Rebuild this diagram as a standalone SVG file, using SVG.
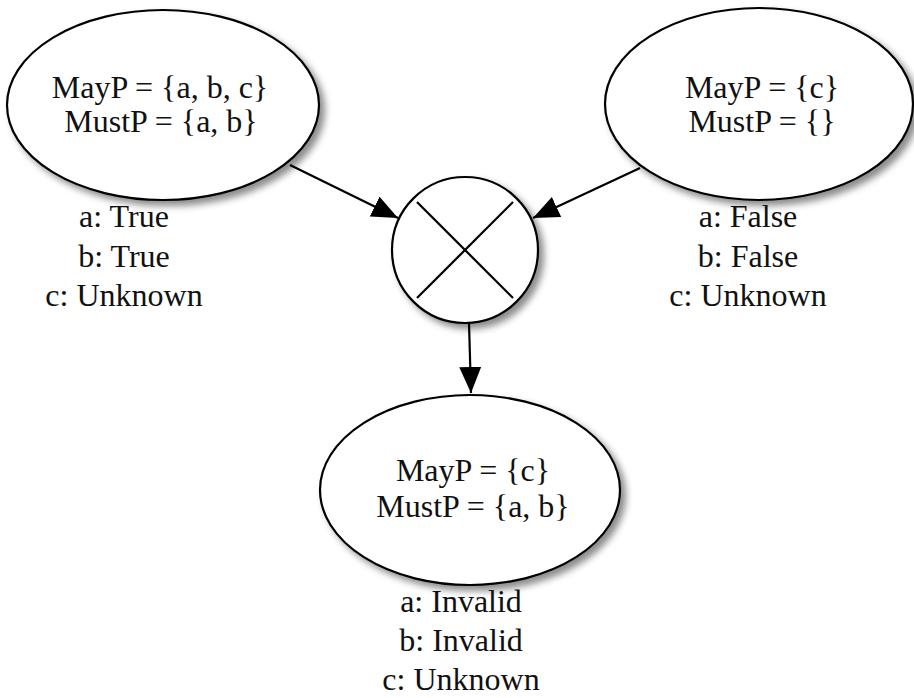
<svg xmlns="http://www.w3.org/2000/svg" width="914" height="698" viewBox="0 0 914 698">
<style>
.shape{fill:#fff;stroke:#000;stroke-width:2.2}
.t{font-family:"Liberation Serif","Times New Roman",serif;font-size:32px;fill:#111;text-anchor:middle}
.edge{fill:none;stroke:#000;stroke-width:2.2}
</style>
<defs>
<filter id="sh" x="-20%" y="-20%" width="150%" height="150%">
<feDropShadow dx="5" dy="5" stdDeviation="3.5" flood-color="#000" flood-opacity="0.45"/>
</filter>
<marker id="ah" markerUnits="userSpaceOnUse" markerWidth="28" markerHeight="22" refX="26" refY="11" orient="auto">
<path d="M0,0 L26,11 L0,22 Z" fill="#000"/>
</marker>
</defs>
<rect width="914" height="698" fill="#fff"/>
<g id="connectors">
<line class="edge" x1="290" y1="165" x2="398" y2="218" marker-end="url(#ah)"/>
<line class="edge" x1="640" y1="168" x2="533" y2="218" marker-end="url(#ah)"/>
<line class="edge" x1="469" y1="323" x2="471" y2="393" marker-end="url(#ah)"/>
</g>
<g id="nodeLeft">
<ellipse class="shape" filter="url(#sh)" cx="163" cy="105" rx="156" ry="95"/>
<text class="t" x="160" y="98">MayP = {a, b, c}</text>
<text class="t" x="161" y="132">MustP = {a, b}</text>
<text class="t" x="124" y="227">a: True</text>
<text class="t" x="124" y="267">b: True</text>
<text class="t" x="124" y="306">c: Unknown</text>
</g>
<g id="nodeRight">
<ellipse class="shape" filter="url(#sh)" cx="759" cy="104" rx="154" ry="96"/>
<text class="t" x="762" y="98">MayP = {c}</text>
<text class="t" x="762" y="132">MustP = {}</text>
<text class="t" x="748" y="227">a: False</text>
<text class="t" x="748" y="267">b: False</text>
<text class="t" x="748" y="306">c: Unknown</text>
</g>
<g id="nodeMerge">
<circle class="shape" filter="url(#sh)" cx="465" cy="250" r="73"/>
<line class="edge" x1="417" y1="202" x2="513" y2="298"/>
<line class="edge" x1="513" y1="202" x2="417" y2="298"/>
</g>
<g id="nodeBottom">
<ellipse class="shape" filter="url(#sh)" cx="470" cy="490" rx="150" ry="95"/>
<text class="t" x="473" y="481">MayP = {c}</text>
<text class="t" x="473" y="517">MustP = {a, b}</text>
<text class="t" x="461" y="612">a: Invalid</text>
<text class="t" x="461" y="651">b: Invalid</text>
<text class="t" x="461" y="690">c: Unknown</text>
</g>
</svg>
